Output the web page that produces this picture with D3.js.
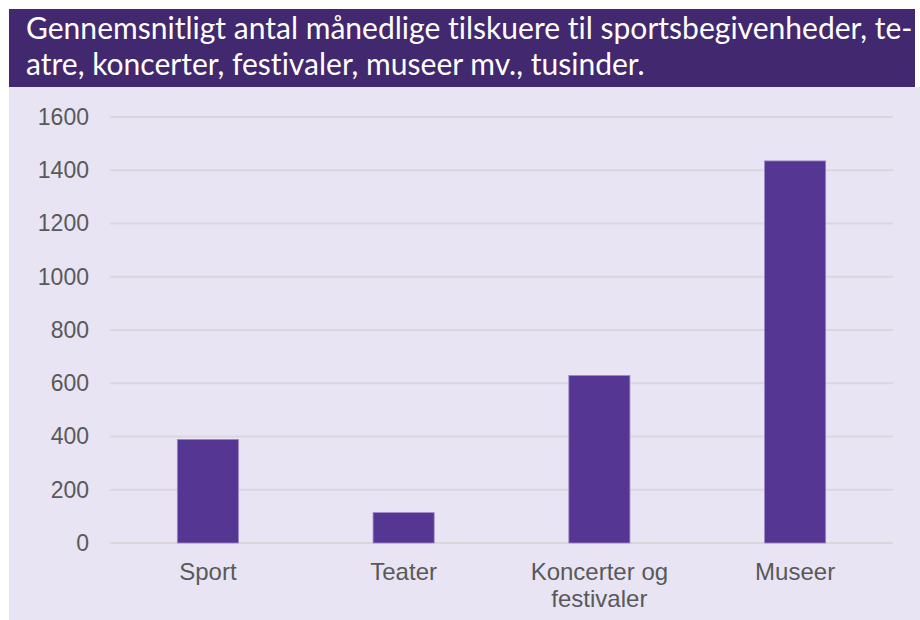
<!DOCTYPE html>
<html>
<head>
<meta charset="utf-8">
<script src="https://cdn.jsdelivr.net/npm/d3@7"></script>
<style>
  html, body { margin: 0; padding: 0; background: #ffffff; }
  svg { display: block; }
  text { font-variant-ligatures: none; font-feature-settings: "liga" 0, "clig" 0; }
</style>
</head>
<body>
<svg id="chart" width="920" height="620"></svg>
<script>
const titleLines = [
  "Gennemsnitligt antal månedlige tilskuere til sportsbegivenheder, te-",
  "atre, koncerter, festivaler, museer mv., tusinder."
];
const categories = [["Sport"], ["Teater"], ["Koncerter og", "festivaler"], ["Museer"]];
const categoryKeys = ["Sport", "Teater", "Koncerter og festivaler", "Museer"];
const values = [389, 114, 629, 1435];
const yTicks = [0, 200, 400, 600, 800, 1000, 1200, 1400, 1600];

const svg = d3.select("#chart");

// backgrounds
svg.append("rect").attr("x", 9).attr("y", 87).attr("width", 911).attr("height", 533).attr("fill", "#e8e4f4");
svg.append("rect").attr("x", 9).attr("y", 9).attr("width", 906).attr("height", 78).attr("fill", "#42286e");

// title
const titleFont = "Lato, 'Open Sans', sans-serif";
const t1 = svg.append("text").attr("x", 26).attr("y", 39)
  .attr("font-family", titleFont).attr("font-size", 24).attr("fill", "#ffffff")
  .text(titleLines[0]);
const w = t1.node().getComputedTextLength();
const fs = 24 * 887 / w;
t1.attr("font-size", fs);
svg.append("text").attr("x", 26).attr("y", 75)
  .attr("font-family", titleFont).attr("font-size", fs).attr("fill", "#ffffff")
  .text(titleLines[1]);

// scales
const x = d3.scaleBand().domain(categoryKeys).range([110, 893]).paddingInner(0.688).paddingOuter(0.344);
const y = d3.scaleLinear().domain([0, 1600]).range([543, 117]);

const axisFont = "Arial, 'Liberation Sans', sans-serif";

// y axis labels
const yAxis = d3.axisLeft(y).tickValues(yTicks).tickSize(0).tickPadding(21).tickFormat(d3.format("d"));
const gy = svg.append("g").attr("transform", "translate(110,0)").call(yAxis);
gy.select(".domain").remove();
gy.selectAll("text").attr("font-family", axisFont).attr("font-size", 23).attr("fill", "#595959");

// gridlines
svg.append("g").selectAll("line").data(yTicks).join("line")
  .attr("x1", 110).attr("x2", 893)
  .attr("y1", d => y(d)).attr("y2", d => y(d))
  .attr("stroke", "#d9d7dc").attr("stroke-width", 2);

// bars
svg.append("g").selectAll("rect").data(values).join("rect")
  .attr("x", (d, i) => x(categoryKeys[i]))
  .attr("y", d => y(d))
  .attr("width", x.bandwidth())
  .attr("height", d => y(0) - y(d))
  .attr("fill", "#553692")
  .attr("stroke", "#9a87c6").attr("stroke-width", 0.8);

// category labels
const labels = svg.append("g");
categories.forEach((lines, i) => {
  const cx = x(categoryKeys[i]) + x.bandwidth() / 2;
  const t = labels.append("text").attr("x", cx).attr("y", 580)
    .attr("text-anchor", "middle").attr("font-family", axisFont)
    .attr("font-size", 24).attr("fill", "#595959");
  lines.forEach((ln, j) => {
    t.append("tspan").attr("x", cx).attr("dy", j === 0 ? 0 : 27).text(ln);
  });
});
</script>
</body>
</html>
